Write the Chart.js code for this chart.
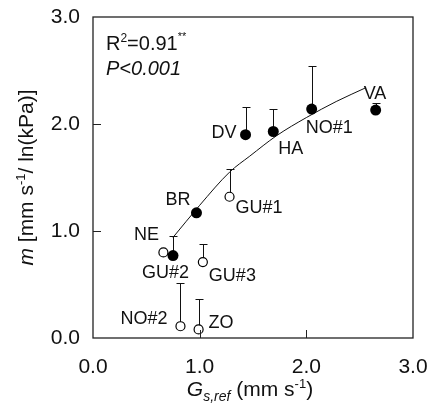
<!DOCTYPE html>
<html>
<head>
<meta charset="utf-8">
<script src="https://cdn.jsdelivr.net/npm/chart.js@4.4.1/dist/chart.umd.min.js"></script>
<style>
  html, body { margin: 0; padding: 0; background: #fff; }
  #wrap { width: 430px; height: 405px; position: relative; }
</style>
</head>
<body>
<div id="wrap"><canvas id="chartjs_scatter"></canvas></div>
<script>
'use strict';

// site groups (filled = one group, open = GU / NO#2 / ZO)
var filledSites = ['DV', 'HA', 'NO#1', 'VA', 'BR', 'NE'];
var filledX     = [1.43, 1.69, 2.05, 2.65, 0.97, 0.75];
var filledY     = [1.90, 1.93, 2.14, 2.13, 1.17, 0.77];
var filledErr   = [0.26, 0.21, 0.40, 0.07, 0.00, 0.18];

var openSites = ['GU#1', 'GU#2', 'GU#3', 'NO#2', 'ZO'];
var openX     = [1.28, 0.66, 1.03, 0.82, 0.99];
var openY     = [1.32, 0.80, 0.71, 0.11, 0.08];
var openErr   = [0.26, 0.00, 0.17, 0.40, 0.28];

// fitted curve
var fitX = [0.75, 1.00, 1.28, 1.47, 1.72, 2.00, 2.28, 2.56];
var fitY = [0.94, 1.24, 1.55, 1.70, 1.89, 2.06, 2.21, 2.34];

var xTicks = [0, 1, 2, 3];
var yTicks = [0, 1, 2, 3];

// label placement relative to the point (pixels)
var labelPos = {
    'DV':   { dx: -9,  dy: 3,   align: 'right' },
    'HA':   { dx: 5,   dy: 23,  align: 'left' },
    'NO#1': { dx: -6,  dy: 24,  align: 'left' },
    'VA':   { dx: -12, dy: -11, align: 'left' },
    'BR':   { dx: -6,  dy: -8,  align: 'right' },
    'NE':   { dx: -14, dy: -16, align: 'right' },
    'GU#1': { dx: 6,   dy: 16,  align: 'left' },
    'GU#2': { dx: 2,   dy: 26,  align: 'center' },
    'GU#3': { dx: 6,   dy: 19,  align: 'left' },
    'NO#2': { dx: -13, dy: -2,  align: 'right' },
    'ZO':   { dx: 10,  dy: -1,  align: 'left' }
};

var FONT = '"Liberation Sans", Arial, Helvetica, sans-serif';

function toPoints(xs, ys) {
    return xs.map(function (x, i) { return { x: x, y: ys[i] }; });
}

// draws a row of text pieces with their own font / vertical shift
function drawRuns(ctx, runs, x, y, align) {
    var total = 0;
    runs.forEach(function (r) { ctx.font = r.font; total += ctx.measureText(r.t).width; });
    var cx = x;
    if (align === 'center') cx = x - total / 2;
    if (align === 'right') cx = x - total;
    ctx.textAlign = 'left';
    ctx.textBaseline = 'alphabetic';
    runs.forEach(function (r) {
        ctx.font = r.font;
        ctx.fillText(r.t, cx, y + (r.dy || 0));
        cx += ctx.measureText(r.t).width;
    });
}

var decorPlugin = {
    id: 'decor',
    beforeDatasetsDraw: function (chart) {
        var ctx = chart.ctx, xs = chart.scales.x, ys = chart.scales.y;
        ctx.save();
        ctx.strokeStyle = '#111';
        ctx.lineWidth = 1;
        function bars(X, Y, E) {
            X.forEach(function (x, i) {
                if (!E[i]) return;
                var px = Math.round(xs.getPixelForValue(x)) + 0.5;
                var p0 = ys.getPixelForValue(Y[i]);
                var p1 = Math.round(ys.getPixelForValue(Y[i] + E[i])) + 0.5;
                ctx.beginPath();
                ctx.moveTo(px, p0); ctx.lineTo(px, p1);
                ctx.moveTo(px - 4, p1); ctx.lineTo(px + 4, p1);
                ctx.stroke();
            });
        }
        bars(filledX, filledY, filledErr);
        bars(openX, openY, openErr);
        ctx.restore();
    },
    afterDatasetsDraw: function (chart) {
        var ctx = chart.ctx, a = chart.chartArea, xs = chart.scales.x, ys = chart.scales.y;
        ctx.save();
        // frame
        ctx.strokeStyle = '#222';
        ctx.lineWidth = 1.3;
        ctx.strokeRect(a.left, a.top, a.right - a.left, a.bottom - a.top);
        // inward tick marks
        ctx.lineWidth = 1;
        ctx.beginPath();
        xTicks.slice(1, -1).forEach(function (v) {
            var px = Math.round(xs.getPixelForValue(v)) + 0.5;
            ctx.moveTo(px, a.bottom); ctx.lineTo(px, a.bottom - 8);
        });
        yTicks.slice(1, -1).forEach(function (v) {
            var py = Math.round(ys.getPixelForValue(v)) + 0.5;
            ctx.moveTo(a.left, py); ctx.lineTo(a.left + 8, py);
        });
        ctx.stroke();

        // point labels
        ctx.fillStyle = '#111';
        ctx.font = '18px ' + FONT;
        ctx.textBaseline = 'alphabetic';
        function labels(names, X, Y) {
            names.forEach(function (n, i) {
                var lp = labelPos[n];
                ctx.textAlign = lp.align;
                ctx.fillText(n, xs.getPixelForValue(X[i]) + lp.dx, ys.getPixelForValue(Y[i]) + lp.dy);
            });
        }
        labels(filledSites, filledX, filledY);
        labels(openSites, openX, openY);

        // statistics
        drawRuns(ctx, [
            { t: 'R', font: '20px ' + FONT },
            { t: '2', font: '12px ' + FONT, dy: -8 },
            { t: '=0.91', font: '20px ' + FONT },
            { t: '**', font: '11px ' + FONT, dy: -10 }
        ], a.left + 13, a.top + 33, 'left');
        drawRuns(ctx, [{ t: 'P<0.001', font: 'italic 20px ' + FONT }], a.left + 13, a.top + 58, 'left');

        // axis titles
        var cx = (a.left + a.right) / 2;
        drawRuns(ctx, [
            { t: 'G', font: 'italic 21px ' + FONT },
            { t: 's,ref', font: 'italic 14px ' + FONT, dy: 5 },
            { t: ' (mm s', font: '21px ' + FONT },
            { t: '-1', font: '13px ' + FONT, dy: -8 },
            { t: ')', font: '21px ' + FONT }
        ], cx - 3, 396, 'center');

        ctx.translate(33, (a.top + a.bottom) / 2);
        ctx.rotate(-Math.PI / 2);
        drawRuns(ctx, [
            { t: 'm', font: 'italic 21px ' + FONT },
            { t: ' [mm s', font: '21px ' + FONT },
            { t: '-1', font: '13px ' + FONT, dy: -8 },
            { t: '/ ln(kPa)]', font: '21px ' + FONT }
        ], 0, 0, 'center');
        ctx.restore();
    }
};

var ctx = document.getElementById('chartjs_scatter').getContext('2d');
var myChart = new Chart(ctx, {
    type: 'scatter',
    data: {
        datasets: [{
            label: 'filled',
            data: toPoints(filledX, filledY),
            pointRadius: 5.5,
            pointBackgroundColor: '#000',
            pointBorderColor: '#000',
            pointBorderWidth: 0,
            order: 1
        }, {
            label: 'open',
            data: toPoints(openX, openY),
            pointRadius: 4.5,
            pointBackgroundColor: '#fff',
            pointBorderColor: '#000',
            pointBorderWidth: 1.2,
            order: 1
        }, {
            label: 'fit',
            data: toPoints(fitX, fitY),
            showLine: true,
            pointRadius: 0,
            borderColor: '#111',
            borderWidth: 1,
            cubicInterpolationMode: 'monotone',
            order: 3
        }]
    },
    options: {
        responsive: true,
        maintainAspectRatio: false,
        animation: false,
        layout: { padding: { top: 17, right: 17, left: 0, bottom: 0 } },
        plugins: {
            legend: { display: false },
            tooltip: { enabled: false },
            title: { display: false }
        },
        scales: {
            x: {
                type: 'linear',
                min: 0, max: 3,
                afterFit: function (s) {
                    s.height = 67;
                    s.paddingLeft = 0; s.paddingRight = 0;
                },
                afterBuildTicks: function (s) { s.ticks = xTicks.map(function (v) { return { value: v }; }); },
                grid: { display: false, drawTicks: false },
                border: { display: false },
                ticks: {
                    color: '#111',
                    padding: 17,
                    maxRotation: 0,
                    font: { family: FONT, size: 21 },
                    callback: function (v) { return v.toFixed(1); }
                }
            },
            y: {
                type: 'linear',
                min: 0, max: 3,
                afterFit: function (s) {
                    s.width = 93;
                    s.paddingTop = 0; s.paddingBottom = 0;
                },
                afterBuildTicks: function (s) { s.ticks = yTicks.map(function (v) { return { value: v }; }); },
                grid: { display: false, drawTicks: false },
                border: { display: false },
                ticks: {
                    color: '#111',
                    padding: 13,
                    font: { family: FONT, size: 21 },
                    callback: function (v) { return v.toFixed(1); }
                }
            }
        }
    },
    plugins: [decorPlugin]
});
</script>
</body>
</html>
